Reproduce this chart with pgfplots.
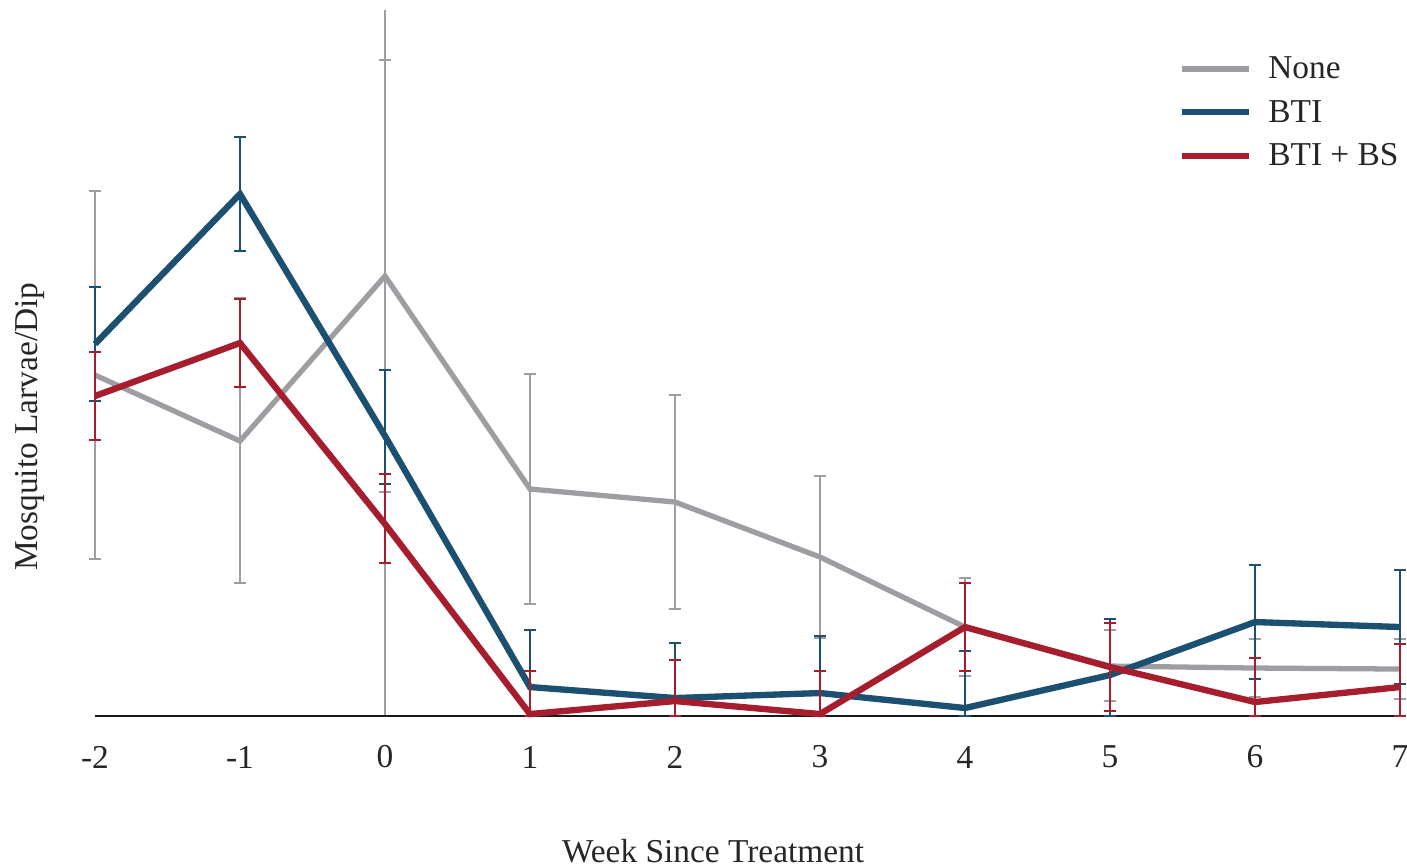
\documentclass[border=0pt]{standalone}
\usepackage{fontspec}
\setmainfont{Liberation Serif}
\usepackage{pgfplots}
\usepackage{pgfplotstable}
\pgfplotsset{compat=1.18}
\definecolor{cgray}{RGB}{158,158,162}
\definecolor{cblue}{RGB}{27,80,112}
\definecolor{cred}{RGB}{166,29,46}

\pgfplotstableread{
x y ep em
-2 3.41 1.84 1.84
-1 2.75 1.43 1.42
0 4.40 2.16 2.16
1 2.27 1.15 1.15
2 2.14 1.07 1.07
3 1.59 0.81 0.81
4 0.89 0.49 0.49
5 0.50 0.36 0.35
6 0.48 0.29 0.29
7 0.47 0.30 0.30
}\tnone

\pgfplotstableread{
x y ep em
-2 3.72 0.57 0.57
-1 5.22 0.57 0.57
0 2.80 0.66 0.48
1 0.29 0.57 0.29
2 0.18 0.55 0.18
3 0.23 0.57 0.23
4 0.08 0.57 0.08
5 0.41 0.56 0.41
6 0.94 0.57 0.57
7 0.89 0.57 0.57
}\tbti

\pgfplotstableread{
x y ep em
-2 3.20 0.44 0.44
-1 3.73 0.44 0.44
0 1.92 0.50 0.39
1 0.02 0.43 0.02
2 0.15 0.41 0.15
3 0.02 0.43 0.02
4 0.89 0.44 0.44
5 0.49 0.44 0.44
6 0.14 0.44 0.14
7 0.29 0.43 0.29
}\tbs

\begin{document}
\begin{tikzpicture}
\begin{axis}[
  name=ax,
  scale only axis,
  width=13.05cm, height=7.06cm,
  xmin=-2, xmax=7, ymin=0, ymax=7.06,
  clip=false,
  axis line style={draw=none},
  font=\fontsize{9.5}{11}\selectfont,
  xtick={-2,-1,0,1,2,3,4,5,6,7},
  xticklabels={-2,-1,0,1,2,3,4,5,6,7},
  ytick=\empty,
  major tick length=0pt,
  xticklabel style={anchor=center, yshift=-0.41cm, text=black!85},
  xlabel={Week Since Treatment},
  xlabel style={at={(axis description cs:0.4736,-0.191)}, anchor=center, text=black!85},
  ylabel={Mosquito Larvae/Dip},
  ylabel style={at={(axis description cs:-0.0498,0.41)}, anchor=center, text=black!85},
  legend style={at={(rel axis cs:0.8299,0.939)}, anchor=north west, draw=none, fill=none, inner sep=0pt,
    nodes={inner sep=0pt, text height=0.25cm, text depth=0.05cm, anchor=west, text=black!85},
    row sep=0.135cm,
    /tikz/every odd column/.append style={column sep=0.17cm}},
  legend cell align=left,
  legend image code/.code={\draw[#1, line width=1.6pt] (0cm,0cm) -- (0.67cm,0cm);},
  error bars/error bar style={line width=0.6pt},
]
\draw[cgray, line width=0.5pt] (axis cs:0,0) -- (axis cs:0,7.06);
\draw[black!90, line width=0.7pt] (axis cs:-2,0) -- (axis cs:7,0);

\addplot[cgray, line width=1.5pt, mark=none,
  error bars/.cd, y dir=both, y explicit,
  error bar style={cgray, line width=0.6pt},
  error mark options={rotate=90, mark size=0.062cm, cgray, line width=0.75pt}]
  table[x=x, y=y, y error plus=ep, y error minus=em] {\tnone};
\addlegendentry{None}

\addplot[cblue, line width=1.8pt, mark=none,
  error bars/.cd, y dir=both, y explicit,
  error bar style={cblue, line width=0.6pt},
  error mark options={rotate=90, mark size=0.062cm, cblue, line width=0.75pt}]
  table[x=x, y=y, y error plus=ep, y error minus=em] {\tbti};
\addlegendentry{BTI}

\addplot[cred, line width=1.8pt, mark=none,
  error bars/.cd, y dir=both, y explicit,
  error bar style={cred, line width=0.6pt},
  error mark options={rotate=90, mark size=0.062cm, cred, line width=0.75pt}]
  table[x=x, y=y, y error plus=ep, y error minus=em] {\tbs};
\addlegendentry{BTI + BS}
\end{axis}
\pgfresetboundingbox
\path ([shift={(-0.95cm,-1.51cm)}]ax.south west) rectangle ([shift={(0.07cm,0.10cm)}]ax.north east);
\end{tikzpicture}
\end{document}
